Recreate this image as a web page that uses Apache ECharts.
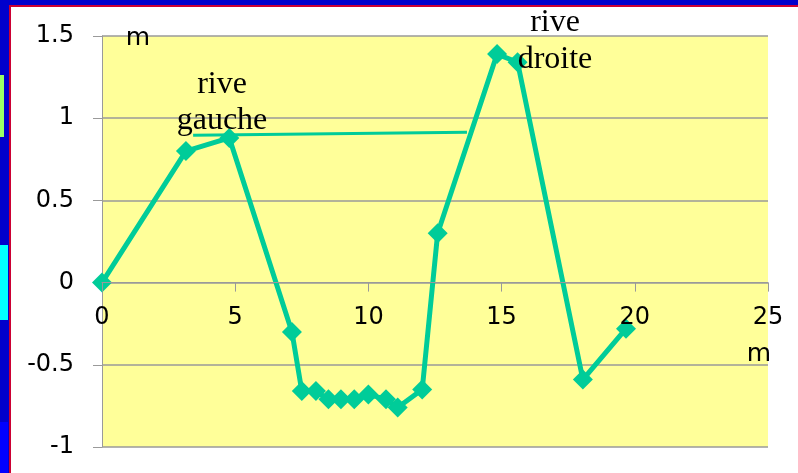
<!DOCTYPE html>
<html>
<head>
<meta charset="utf-8">
<script src="https://cdn.jsdelivr.net/npm/echarts@6/dist/echarts.min.js"></script>
<style>
  html, body { margin: 0; padding: 0; background: #fff; }
  #chart { width: 798px; height: 473px; }
</style>
</head>
<body>
<div id="chart"></div>
<script>
// Cross-section profile: distance across the channel (m) and bed elevation (m)
const distances = [0, 3.15, 4.78, 7.13, 7.5, 8.03, 8.5, 8.97, 9.47, 10.0, 10.66, 11.1, 12.02, 12.6, 14.83, 15.6, 18.05, 19.67];
const elevations = [0, 0.8, 0.88, -0.3, -0.66, -0.66, -0.71, -0.71, -0.71, -0.68, -0.71, -0.76, -0.65, 0.3, 1.39, 1.34, -0.59, -0.28];

// Water surface line between the banks
const waterX = [3.42, 13.7];
const waterY = [0.897, 0.915];

// Axis ranges: [min, max, interval]
const xRange = [0, 25, 5];
const yRange = [-1, 1.5, 0.5];

const teal = '#00CC99';
const axisFont = 'DejaVu Sans';

const W = 798, H = 473;
const grid = { left: 102, right: 30, top: 36, bottom: 26 };
const plotH = H - grid.top - grid.bottom;
// the horizontal axis sits at elevation 0, above the bottom of the plot
const zeroOffset = -plotH * (0 - yRange[0]) / (yRange[1] - yRange[0]);

const chart = echarts.init(document.getElementById('chart'), null, { renderer: 'canvas' });

chart.setOption({
  animation: false,
  backgroundColor: '#ffffff',
  grid: Object.assign({
    show: true, backgroundColor: '#FFFF99', borderWidth: 0,
    containLabel: false, outerBoundsMode: 'none'
  }, grid),
  xAxis: {
    type: 'value',
    position: 'bottom',
    offset: zeroOffset,
    min: xRange[0], max: xRange[1], interval: xRange[2],
    z: 5,
    axisLine: { onZero: false, lineStyle: { color: '#9a9a9a', width: 1 } },
    axisTick: { show: true, length: 9, lineStyle: { color: '#9a9a9a' } },
    axisLabel: { color: '#000', fontFamily: axisFont, fontSize: 24, margin: 23 },
    splitLine: { show: false }
  },
  yAxis: {
    type: 'value',
    min: yRange[0], max: yRange[1], interval: yRange[2],
    axisLine: { show: true, lineStyle: { color: '#9a9a9a', width: 1 } },
    axisTick: { show: true, length: 9, lineStyle: { color: '#9a9a9a' } },
    axisLabel: { color: '#000', fontFamily: axisFont, fontSize: 24, margin: 28 },
    splitLine: { show: true, lineStyle: { color: '#9a9a9a', width: 1.5 } }
  },
  series: [
    {
      type: 'line',
      data: distances.map((x, i) => [x, elevations[i]]),
      lineStyle: { color: teal, width: 5 },
      itemStyle: { color: teal },
      symbol: 'diamond',
      symbolSize: 20,
      z: 3
    },
    {
      type: 'line',
      data: waterX.map((x, i) => [x, waterY[i]]),
      lineStyle: { color: teal, width: 3 },
      symbol: 'none',
      z: 3
    }
  ],
  graphic: [
    // slide frame decoration
    { type: 'rect', shape: { x: 0, y: 0, width: 798, height: 5 }, style: { fill: '#0000CC' }, z: 10 },
    { type: 'rect', shape: { x: 0, y: 5, width: 798, height: 2 }, style: { fill: '#CC0033' }, z: 10 },
    { type: 'rect', shape: { x: 0, y: 0, width: 9, height: 473 }, style: { fill: '#0000CC' }, z: 10 },
    { type: 'rect', shape: { x: 9, y: 5, width: 2, height: 468 }, style: { fill: '#CC0033' }, z: 10 },
    { type: 'rect', shape: { x: 0, y: 75, width: 4, height: 62 }, style: { fill: '#99FF66' }, z: 11 },
    { type: 'rect', shape: { x: 0, y: 245, width: 8, height: 75 }, style: { fill: '#00FFFF' }, z: 11 },
    { type: 'rect', shape: { x: 0, y: 422, width: 8, height: 51 }, style: { fill: '#0000FF' }, z: 11 },
    // axis units
    { type: 'text', x: 138, y: 38, style: { text: 'm', font: '25px "DejaVu Sans"', fill: '#000', align: 'center', verticalAlign: 'middle' }, z: 20 },
    { type: 'text', x: 759, y: 354, style: { text: 'm', font: '25px "DejaVu Sans"', fill: '#000', align: 'center', verticalAlign: 'middle' }, z: 20 },
    // bank labels
    { type: 'text', x: 222, y: 85, style: { text: 'rive', font: '32px "Liberation Serif"', fill: '#000', align: 'center', verticalAlign: 'middle' }, z: 20 },
    { type: 'text', x: 222, y: 121, style: { text: 'gauche', font: '32px "Liberation Serif"', fill: '#000', align: 'center', verticalAlign: 'middle' }, z: 20 },
    { type: 'text', x: 555, y: 23, style: { text: 'rive', font: '32px "Liberation Serif"', fill: '#000', align: 'center', verticalAlign: 'middle' }, z: 20 },
    { type: 'text', x: 555, y: 60, style: { text: 'droite', font: '32px "Liberation Serif"', fill: '#000', align: 'center', verticalAlign: 'middle' }, z: 20 }
  ]
});
</script>
</body>
</html>
